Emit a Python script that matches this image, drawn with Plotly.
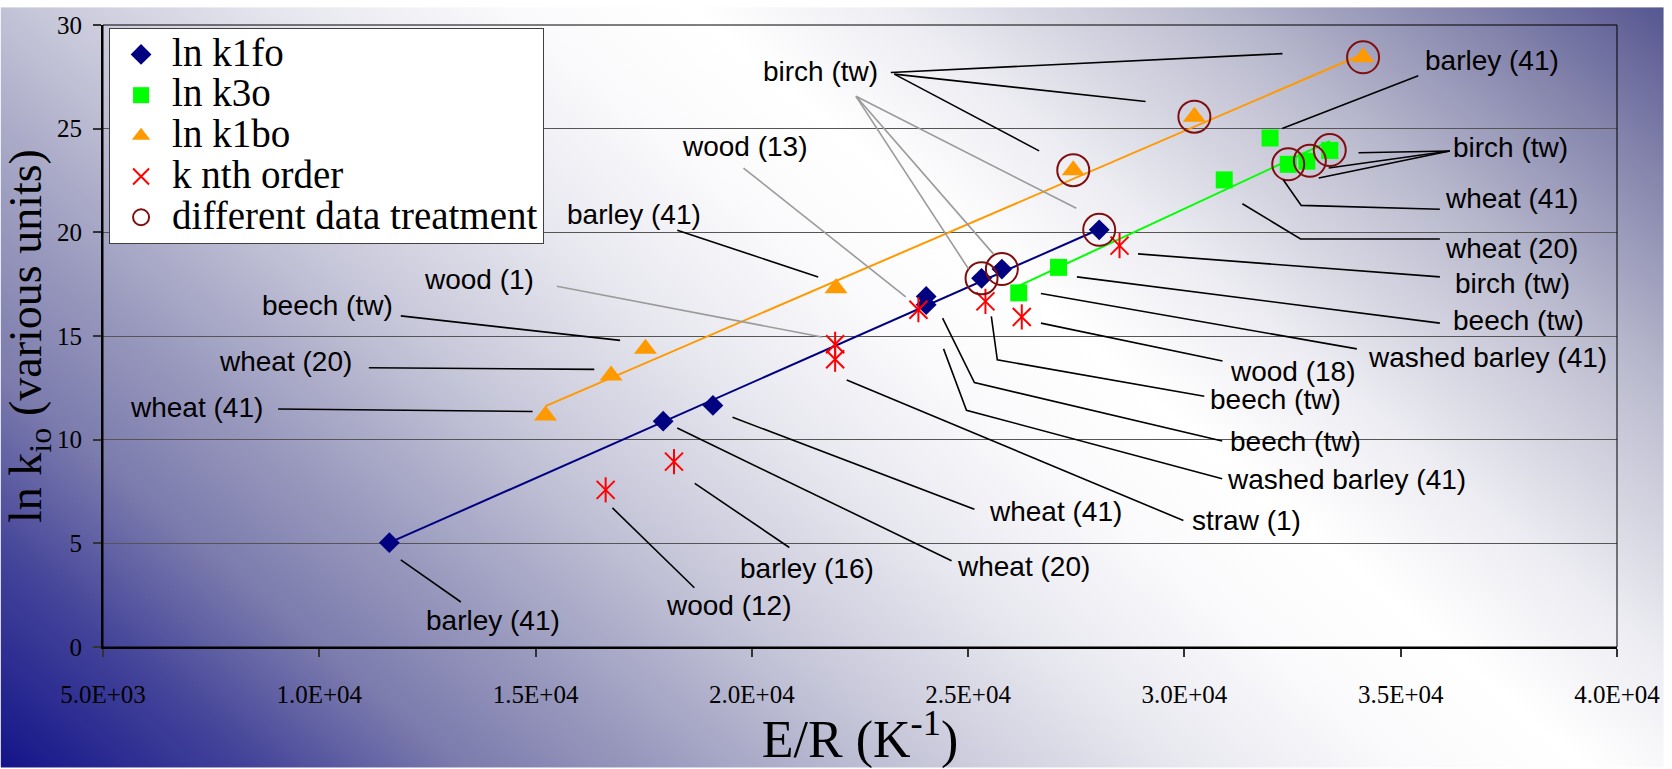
import base64
import plotly.graph_objects as go

# ---------------- data ----------------
# ln k1fo (first order, fast)
k1fo_x = [11620, 17950, 19100, 24030, 24030, 25310, 25780, 28030]
k1fo_y = [5.03, 10.89, 11.65, 16.91, 16.51, 17.78, 18.23, 20.12]

# ln k3o
k3o_x = [26170, 27090, 30920, 31980, 32400, 32830, 33360]
k3o_y = [17.08, 18.31, 22.53, 24.55, 23.28, 23.43, 23.95]

# ln k1bo
k1bo_x = [15230, 16745, 17540, 21946, 27430, 30230, 34130]
k1bo_y = [11.16, 13.09, 14.39, 17.30, 23.00, 25.58, 28.44]

# k nth order
knth_x = [16620, 18200, 21925, 21925, 23850, 25400, 26240, 28500]
knth_y = [7.58, 8.94, 14.60, 13.88, 16.27, 16.67, 15.92, 19.36]

# different data treatment
ddt_x = [25310, 25780, 28030, 27430, 30230, 34130, 32400, 32900, 33360]
ddt_y = [17.78, 18.23, 20.12, 23.00, 25.58, 28.44, 23.28, 23.45, 23.97]

# linear trend lines (start / end)
trend_k1fo_x = [11620, 28030]
trend_k1fo_y = [5.03, 20.15]
trend_k3o_x = [26170, 33360]
trend_k3o_y = [17.42, 24.40]
trend_k1bo_x = [15230, 34130]
trend_k1bo_y = [11.62, 28.60]

# axis ticks
x_tick_vals = [5000, 10000, 15000, 20000, 25000, 30000, 35000, 40000]
x_tick_text = ["5.0E+03", "1.0E+04", "1.5E+04", "2.0E+04",
               "2.5E+04", "3.0E+04", "3.5E+04", "4.0E+04"]
y_tick_vals = [0, 5, 10, 15, 20, 25, 30]

# point labels: text and centre position
label_text = ["birch (tw)", "wood (13)", "barley (41)", "wood (1)", "beech (tw)",
              "wheat (20)", "wheat (41)", "barley (41)", "wood (12)", "barley (16)",
              "wheat (20)", "wheat (41)", "straw (1)", "washed barley (41)",
              "beech (tw)", "beech (tw)", "wood (18)", "washed barley (41)",
              "beech (tw)", "birch (tw)", "wheat (20)", "wheat (41)",
              "birch (tw)", "barley (41)"]
label_x = [21579, 19830, 17277, 13687, 10190,
           9224, 7153, 14010, 19462, 21280,
           26273, 27010, 31426, 33750,
           32577, 32094, 32508, 37016,
           37729, 37591, 37568, 37568,
           37545, 37108]
label_y = [27.78, 24.12, 20.88, 17.74, 16.46,
           13.78, 11.54, 1.30, 1.98, 3.80,
           3.90, 6.53, 6.09, 8.10,
           9.91, 11.92, 13.30, 13.98,
           15.75, 17.51, 19.24, 21.64,
           24.08, 28.30]

# leader lines from labels towards their points
leader_black = [
    [(23212, 27.71), (32266, 28.62)],
    [(23293, 27.63), (29102, 26.31)],
    [(23293, 27.63), (26641, 23.93)],
    [(18275, 20.10), (21533, 17.85)],
    [(11884, 15.97), (16954, 14.79)],
    [(11145, 13.47), (16356, 13.39)],
    [(9049, 11.48), (14930, 11.36)],
    [(11884, 4.20), (13273, 2.17)],
    [(16777, 6.71), (18671, 2.86)],
    [(18680, 7.89), (20866, 4.80)],
    [(18275, 10.56), (24616, 4.16)],
    [(19554, 11.08), (25145, 6.64)],
    [(22193, 12.88), (29976, 6.10)],
    [(24432, 14.38), (24961, 11.42), (30873, 8.12)],
    [(24409, 15.86), (25145, 12.75), (30873, 9.94)],
    [(25536, 15.95), (25674, 13.85), (30459, 12.09)],
    [(26682, 15.62), (30880, 13.79)],
    [(26682, 17.05), (33986, 14.38)],
    [(27515, 17.85), (35905, 15.62)],
    [(28927, 18.96), (35905, 17.85)],
    [(31340, 21.38), (32685, 19.68), (35905, 19.68)],
    [(32284, 22.54), (32699, 21.30), (35905, 21.11)],
    [(36135, 23.92), (34025, 23.84)],
    [(36135, 23.92), (33335, 23.10)],
    [(36135, 23.92), (33105, 22.62)],
    [(35406, 27.55), (32261, 25.01)],
]
leader_grey = [
    [(22407, 26.56), (27501, 21.16)],
    [(22407, 26.56), (25007, 18.24)],
    [(22407, 26.56), (25583, 18.96)],
    [(19807, 23.10), (23557, 16.89)],
    [(15493, 17.40), (21620, 14.95)],
]

# ---------------- figure ----------------
W, H = 1672, 769
SERIF = "Liberation Serif"
SANS = "Liberation Sans"
RED = "#ff0000"
MAROON = "#7f0f0f"

fig = go.Figure()

# trend lines underneath the markers
fig.add_trace(go.Scatter(x=trend_k1fo_x, y=trend_k1fo_y, mode="lines",
                         line=dict(color="#000080", width=2), showlegend=False, hoverinfo="skip"))
fig.add_trace(go.Scatter(x=trend_k3o_x, y=trend_k3o_y, mode="lines",
                         line=dict(color="#00ff00", width=2), showlegend=False, hoverinfo="skip"))
fig.add_trace(go.Scatter(x=trend_k1bo_x, y=trend_k1bo_y, mode="lines",
                         line=dict(color="#ff9900", width=2), showlegend=False, hoverinfo="skip"))


def legend_name(s):
    return "<span style='font-size:39px'>" + s + "</span>"


fig.add_trace(go.Scatter(x=k1fo_x, y=k1fo_y, mode="markers", name=legend_name("ln k1fo"),
                         marker=dict(symbol="diamond", size=16, color="#000080")))
fig.add_trace(go.Scatter(x=k3o_x, y=k3o_y, mode="markers", name=legend_name("ln k3o"),
                         marker=dict(symbol="square", size=17, color="#00ff00")))
fig.add_trace(go.Scatter(x=k1bo_x, y=k1bo_y, mode="markers", name=legend_name("ln k1bo"),
                         marker=dict(symbol="triangle-up", size=20, color="#ff9900")))
fig.add_trace(go.Scatter(x=knth_x, y=knth_y, mode="markers", name=legend_name("k nth order"),
                         marker=dict(symbol="x-thin-open", size=18, color=RED,
                                     line=dict(color=RED, width=2))))
# vertical stroke completing the six-armed star
fig.add_trace(go.Scatter(x=knth_x, y=knth_y, mode="markers", showlegend=False,
                         marker=dict(symbol="line-ns-open", size=18, color=RED,
                                     line=dict(color=RED, width=2))))
fig.add_trace(go.Scatter(x=ddt_x, y=ddt_y, mode="markers",
                         name=legend_name("different data treatment"),
                         marker=dict(symbol="circle-open", size=32, color=MAROON,
                                     line=dict(color=MAROON, width=2))))

# labels
for t, lx, ly in zip(label_text, label_x, label_y):
    fig.add_annotation(x=lx, y=ly, text=t, showarrow=False, xanchor="center", yanchor="middle",
                       font=dict(family=SANS, size=28, color="#000000"))


def path_of(pts):
    return "M " + " L ".join(f"{px},{py}" for px, py in pts)


shapes = []
for pts in leader_black:
    shapes.append(dict(type="path", path=path_of(pts), xref="x", yref="y",
                       line=dict(color="#000000", width=1.6)))
for pts in leader_grey:
    shapes.append(dict(type="path", path=path_of(pts), xref="x", yref="y",
                       line=dict(color="#9a9a9a", width=1.6)))
# thin frame on top / right of the plot area
shapes.append(dict(type="rect", xref="paper", yref="paper", x0=0, x1=1, y0=0, y1=1,
                   line=dict(color="#000000", width=1), fillcolor="rgba(0,0,0,0)"))

# slide background: diagonal navy -> white -> slate gradient
stops = [(0.00, "#14148a"), (0.10, "#44449a"), (0.18, "#7b7bad"), (0.26, "#9b9bbf"),
         (0.36, "#c6c6d9"), (0.46, "#e7e7ef"), (0.55, "#fafafc"), (0.62, "#ffffff"),
         (0.70, "#ececf2"), (0.82, "#bbbbcf"), (0.92, "#8585ad"), (1.00, "#565691")]
stop_xml = "".join(f"<stop offset='{o}' stop-color='{c}'/>" for o, c in stops)
svg = (f"<svg xmlns='http://www.w3.org/2000/svg' width='{W}' height='{H}' viewBox='0 0 {W} {H}' "
       f"preserveAspectRatio='none'><defs><linearGradient id='g' gradientUnits='userSpaceOnUse' "
       f"x1='0' y1='{H}' x2='1082.8' y2='-502.5'>{stop_xml}</linearGradient></defs>"
       f"<rect x='0' y='0' width='{W}' height='{H}' fill='url(#g)'/></svg>")
bg_uri = "data:image/svg+xml;base64," + base64.b64encode(svg.encode()).decode()

ML, MR, MT, MB = 103, 47, 18, 122
pw, ph = W - ML - MR, H - MT - MB

fig.update_layout(
    width=W, height=H,
    margin=dict(l=ML, r=MR, t=MT, b=MB, pad=0),
    paper_bgcolor="white",
    plot_bgcolor="rgba(0,0,0,0)",
    shapes=shapes,
    images=[dict(source=bg_uri, xref="paper", yref="paper",
                 x=-ML / pw, y=1 + MT / ph, sizex=W / pw, sizey=H / ph,
                 xanchor="left", yanchor="top", sizing="stretch", layer="below")],
    showlegend=True,
    legend=dict(x=0.004, y=0.995, xanchor="left", yanchor="top",
                bgcolor="white", bordercolor="#404040", borderwidth=1,
                font=dict(family=SERIF, size=29, color="#000000"),
                itemwidth=52, tracegroupgap=0),
    xaxis=dict(range=[5000, 40000], tickmode="array", tickvals=x_tick_vals, ticktext=x_tick_text,
               showline=True, linecolor="#000000", linewidth=2,
               ticks="outside", ticklen=8, tickwidth=1.5, tickcolor="#333333",
               showgrid=False, zeroline=False, ticklabelstandoff=16,
               tickfont=dict(family=SERIF, size=25, color="#000000"),
               title=dict(text="E/R (K<sup>-1</sup>)", standoff=12,
                          font=dict(family=SERIF, size=52, color="#000000"))),
    yaxis=dict(range=[0, 30], tickmode="array", tickvals=y_tick_vals,
               showline=True, linecolor="#000000", linewidth=2,
               ticks="outside", ticklen=8, tickwidth=1.5, tickcolor="#333333",
               showgrid=True, gridcolor="#555555", gridwidth=1, zeroline=False,
               ticklabelstandoff=6,
               tickfont=dict(family=SERIF, size=25, color="#000000"),
               title=dict(text="ln k<sub>io</sub> (various units)", standoff=4,
                          font=dict(family=SERIF, size=46, color="#000000"))),
)

fig.write_html("out.html")
